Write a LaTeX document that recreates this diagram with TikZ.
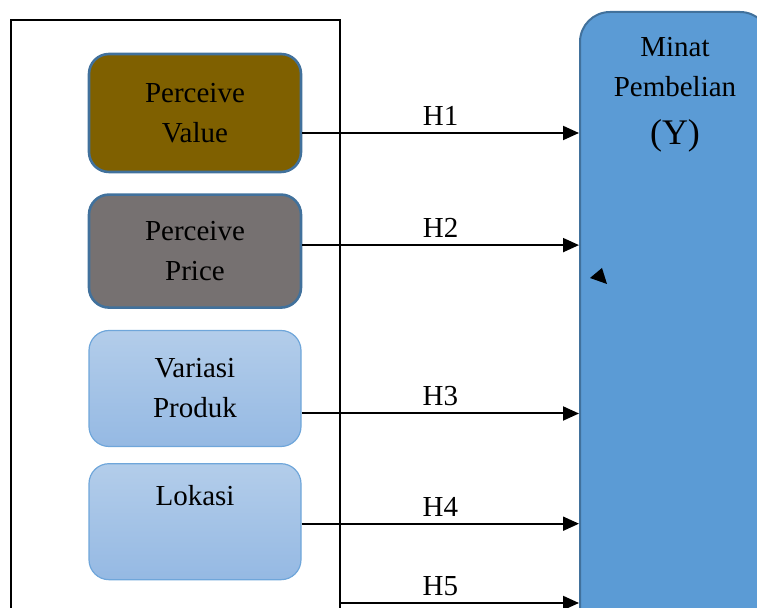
\documentclass[tikz,border=0pt]{standalone}
\usepackage{fontspec}
\setmainfont{Liberation Serif}
\usetikzlibrary{arrows.meta,positioning}
\definecolor{valuebrown}{HTML}{7F6000}
\definecolor{pricegray}{HTML}{767171}
\definecolor{edgeblue}{HTML}{41719C}
\definecolor{minatblue}{HTML}{5B9BD5}
\definecolor{lighttop}{HTML}{B3CDEA}
\definecolor{lightbot}{HTML}{95B9E3}
\definecolor{lightedge}{HTML}{6FA6DA}

\begin{document}
\begin{tikzpicture}[
  x=0.5pt,y=-0.5pt,
  font=\fontsize{14.5pt}{20pt}\selectfont,
  n/.style={rectangle,rounded corners=10pt,align=center,minimum width=106pt,minimum height=58pt},
  dark/.style={n,draw=edgeblue,line width=1.3pt},
  light/.style={n,draw=lightedge,line width=0.6pt,top color=lighttop,bottom color=lightbot},
  arr/.style={-{Triangle[length=8pt,width=7pt]},line width=1pt},
  lbl/.style={above}
]
\useasboundingbox (0,0) rectangle (757,608);
% frame round the variables
\draw[line width=0.8pt] (11,20) rectangle (340,640);
\coordinate (h5) at (340,603);
% dependent variable
\node[rectangle,rounded corners=15pt,draw=edgeblue,line width=1pt,fill=minatblue,
  minimum width=95pt,minimum height=344pt] (minat) at (675,356) {};
\node[align=center,below=9.5pt of minat.north] (minattxt)
  {Minat\\Pembelian\\[4pt]{\fontsize{18pt}{22pt}\selectfont (Y)}};
% independent variables
\node[dark,fill=valuebrown,minimum height=59pt] (pv) at (195,113) {Perceive\\Value};
\node[dark,fill=pricegray,minimum height=56.5pt,below=10pt of pv] (pp) {Perceive\\Price};
\node[light,below=10.5pt of pp] (vp) {Variasi\\Produk};
\node[light,below=8pt of vp] (lok) {};
\node (loktxt) at ([yshift=13pt]lok.center) {Lokasi};
% hypotheses
\draw[arr] ([yshift=-10pt]pv.east) -- node[lbl]{H1} ([yshift=-10pt]pv.east -| minat.west);
\draw[arr] ([yshift=3pt]pp.east) -- node[lbl]{H2} ([yshift=3pt]pp.east -| minat.west);
\draw[arr] ([yshift=-12.5pt]vp.east) -- node[lbl]{H3} ([yshift=-12.5pt]vp.east -| minat.west);
\draw[arr] ([yshift=-1pt]lok.east) -- node[lbl]{H4} ([yshift=-1pt]lok.east -| minat.west);
\draw[arr] (h5) -- node[lbl,pos=0.42]{H5} (h5 -| minat.west);
\fill (602,268) -- (607,284) -- (590,278) -- cycle;
\end{tikzpicture}
\end{document}
